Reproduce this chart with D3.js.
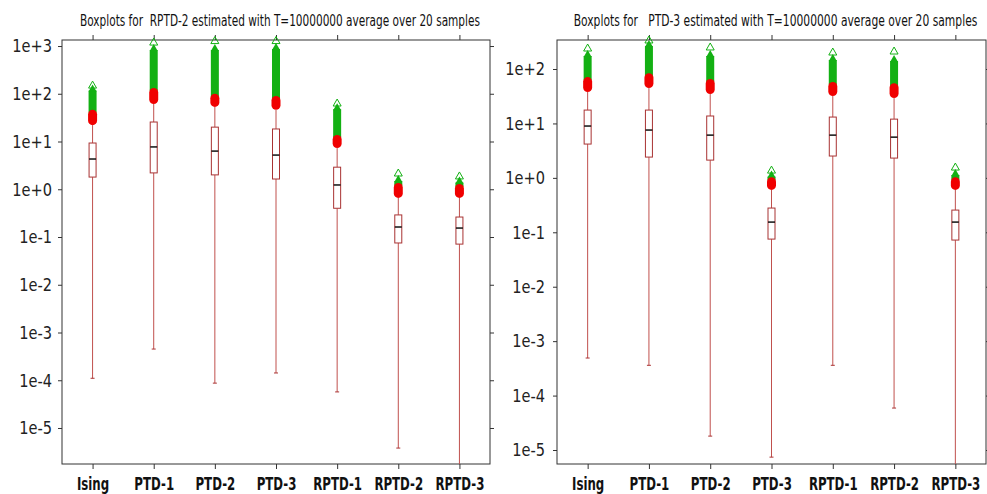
<!DOCTYPE html>
<html lang="en">
<head>
<meta charset="UTF-8">
<title>Boxplots</title>
<script src="https://cdn.jsdelivr.net/npm/d3@7"></script>
<style>
  body { margin: 0; background: #fff; }
  svg text { font-family: "Liberation Sans Narrow", "DejaVu Sans Condensed", "Liberation Sans", sans-serif; }
</style>
</head>
<body>
<div id="grafica"></div>
<script>
// categories on the x axis (same for both panels)
const categories = ['Ising', 'PTD-1', 'PTD-2', 'PTD-3', 'RPTD-1', 'RPTD-2', 'RPTD-3']
const yTicks = [1e-5, 1e-4, 1e-3, 1e-2, 1e-1, 1e0, 1e1, 1e2, 1e3]

// left panel: RPTD-2
const rptd2Low    = [1.1e-4, 4.5e-4, 8.7e-5, 1.42e-4, 5.7e-5, 3.8e-6, 1e-6]
const rptd2Q1     = [1.8, 2.2, 2.0, 1.64, 0.40, 0.075, 0.071]
const rptd2Median = [4.3, 7.7, 6.3, 5.2, 1.23, 0.162, 0.154]
const rptd2Q3     = [9.3, 25.6, 20, 18.3, 2.9, 0.29, 0.262]
const rptd2High   = [22, 61, 53, 46, 7.3, 0.66, 0.66]     // upper whisker = first outliers
const rptd2RedTop = [46, 132, 100, 90, 13.7, 1.35, 1.29]
const rptd2GreenTop = [135, 950, 950, 1000, 55, 1.72, 1.6]
const rptd2Max    = [152, 1210, 1300, 1300, 64, 2.19, 1.9]

// right panel: PTD-3
const ptd3Low    = [4.9e-4, 3.6e-4, 1.8e-5, 7.4e-6, 3.6e-4, 5.9e-5, 1e-6]
const ptd3Q1     = [4.18, 2.41, 2.12, 0.075, 2.52, 2.31, 0.072]
const ptd3Median = [8.96, 7.56, 6.1, 0.154, 6.1, 5.6, 0.154]
const ptd3Q3     = [17.6, 17.6, 13.7, 0.279, 13.1, 12.0, 0.256]
const ptd3High   = [37.8, 44.7, 34.7, 0.60, 31.9, 29.3, 0.60]
const ptd3RedTop = [71, 84, 65.5, 1.03, 57.7, 55, 1.03]
const ptd3GreenTop = [197, 300, 197, 1.2, 166, 159, 1.28]
const ptd3Max    = [243, 341, 254, 1.39, 205, 214, 1.58]

const ancho = 987
const alto = 494
const plotTop = 40, plotBottom = 464

const svg = d3.select('#grafica')
  .append('svg')
  .attr('width', ancho)
  .attr('height', alto)

function fmt(d) {
  const e = Math.round(Math.log10(d))
  return '1e' + (e < 0 ? '-' : '+') + Math.abs(e)
}

// squeeze text horizontally, the original uses a narrow font
function narrow(sel, k) {
  sel.each(function() {
    const t = d3.select(this)
    const x0 = +t.attr('x') || 0
    t.attr('x', x0 / k).attr('transform', `scale(${k},1)`)
  })
}

function panel(id, left, right, title, titleWidth, domain, rows) {
  const x = d3.scalePoint().domain(categories).range([left, right]).padding(0.5)
  const y = d3.scaleLog().domain(domain).range([plotBottom, plotTop])
  const ticks = yTicks.filter(t => t >= domain[0] && t <= domain[1])

  const g = svg.append('g')

  g.append('clipPath').attr('id', 'clip' + id)
    .append('rect')
    .attr('x', left).attr('y', plotTop - 6)
    .attr('width', right - left).attr('height', plotBottom - plotTop + 6)

  const t = g.append('text')
    .attr('text-anchor', 'middle')
    .attr('font-size', 16)
    .attr('fill', '#111')
    .style('white-space', 'pre')
    .text(title)
  const tw = t.node().getComputedTextLength()
  t.attr('transform', `translate(${(left + right) / 2 + 4},26) scale(${titleWidth / tw},1)`)

  // axes
  const yl = g.append('g').attr('transform', `translate(${left},0)`)
    .call(d3.axisLeft(y).tickValues(ticks).tickFormat(fmt).tickSize(4).tickPadding(id == 'a' ? 6 : 8))
  yl.selectAll('text').attr('font-size', 18).attr('fill', '#222').call(narrow, 0.9)
  g.append('g').attr('transform', `translate(${right},0)`)
    .call(d3.axisRight(y).tickValues(ticks).tickFormat('').tickSize(4))
  g.append('g').attr('transform', `translate(0,${plotTop})`)
    .call(d3.axisTop(x).tickFormat('').tickSize(5))
  const xb = g.append('g').attr('transform', `translate(0,${plotBottom})`)
    .call(d3.axisBottom(x).tickSize(5).tickPadding(9))
  xb.selectAll('text').attr('font-size', 17).attr('font-weight', 'bold').attr('fill', '#111').call(narrow, 0.77)
  g.selectAll('.domain').remove()
  g.selectAll('.tick line').attr('stroke', '#333')

  g.append('rect')
    .attr('x', left).attr('y', plotTop)
    .attr('width', right - left).attr('height', plotBottom - plotTop)
    .attr('fill', 'none').attr('stroke', '#333')

  const data = categories.map((c, i) => ({
    c: c, low: rows[0][i], q1: rows[1][i], med: rows[2][i], q3: rows[3][i],
    high: rows[4][i], red: rows[5][i], green: rows[6][i], max: rows[7][i]
  }))

  const boxes = g.append('g').attr('clip-path', `url(#clip${id})`)
    .selectAll('g').data(data).enter().append('g')

  // lower whisker + cap
  boxes.append('line')
    .attr('x1', d => x(d.c)).attr('x2', d => x(d.c))
    .attr('y1', d => y(d.q1)).attr('y2', d => y(d.low))
    .attr('stroke', '#c0504d')
  boxes.append('line')
    .attr('x1', d => x(d.c) - 2).attr('x2', d => x(d.c) + 2)
    .attr('y1', d => y(d.low)).attr('y2', d => y(d.low))
    .attr('stroke', '#a33')
  // upper whisker
  boxes.append('line')
    .attr('x1', d => x(d.c)).attr('x2', d => x(d.c))
    .attr('y1', d => y(d.q3)).attr('y2', d => y(d.high))
    .attr('stroke', '#c0504d')

  // extreme outliers (green triangles)
  boxes.append('rect')
    .attr('x', d => x(d.c) - 4).attr('width', 8)
    .attr('y', d => y(d.green) + 3)
    .attr('height', d => Math.max(0, y(d.red) - y(d.green)))
    .attr('fill', '#13b013')
  boxes.append('path')
    .attr('d', d => { const cx = x(d.c), cy = y(d.green); return `M${cx - 4},${cy + 4}L${cx},${cy - 3}L${cx + 4},${cy + 4}Z` })
    .attr('fill', '#13b013')
  boxes.append('path')
    .attr('d', d => { const cx = x(d.c), cy = y(d.max); return `M${cx - 4},${cy + 3}L${cx},${cy - 4}L${cx + 4},${cy + 3}Z` })
    .attr('fill', 'none').attr('stroke', '#13b013')

  // outliers (red dots)
  boxes.append('rect')
    .attr('x', d => x(d.c) - 4.5).attr('width', 9)
    .attr('y', d => y(d.red))
    .attr('height', d => y(d.high) - y(d.red))
    .attr('rx', 4.5)
    .attr('fill', '#f00000')

  // box
  boxes.append('rect')
    .attr('x', d => x(d.c) - 3.5).attr('width', 7)
    .attr('y', d => y(d.q3))
    .attr('height', d => y(d.q1) - y(d.q3))
    .attr('fill', '#fff').attr('stroke', '#a83232')
  boxes.append('line')
    .attr('x1', d => x(d.c) - 3.5).attr('x2', d => x(d.c) + 3.5)
    .attr('y1', d => y(d.med)).attr('y2', d => y(d.med))
    .attr('stroke', '#111').attr('stroke-width', 1.5)
}

panel('a', 62, 490, 'Boxplots for  RPTD-2 estimated with T=10000000 average over 20 samples', 400,
  [Math.pow(10, -5.754), Math.pow(10, 3.126)],
  [rptd2Low, rptd2Q1, rptd2Median, rptd2Q3, rptd2High, rptd2RedTop, rptd2GreenTop, rptd2Max])

panel('b', 557, 986, 'Boxplots for   PTD-3 estimated with T=10000000 average over 20 samples', 404,
  [Math.pow(10, -5.257), Math.pow(10, 2.533)],
  [ptd3Low, ptd3Q1, ptd3Median, ptd3Q3, ptd3High, ptd3RedTop, ptd3GreenTop, ptd3Max])
</script>
</body>
</html>
